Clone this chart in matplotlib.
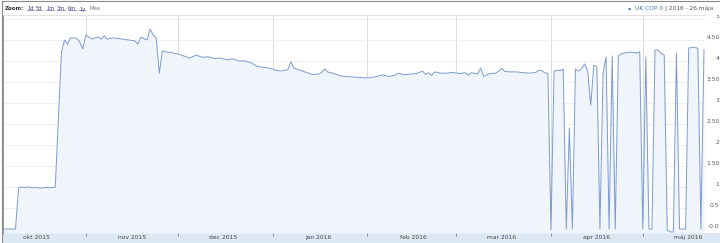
import matplotlib
matplotlib.use("Agg")
import matplotlib.pyplot as plt
import pandas as pd
from matplotlib.patches import Rectangle
from matplotlib.lines import Line2D
from matplotlib.ticker import FixedLocator, FixedFormatter, NullFormatter

# ------------------------------------------------------------------------------
# data (UK COP 0)

dates = [
    "2015-10-05", "2015-10-07", "2015-10-09", "2015-10-10", "2015-10-11", "2015-10-12",
    "2015-10-13", "2015-10-14", "2015-10-15", "2015-10-16", "2015-10-17", "2015-10-18",
    "2015-10-19", "2015-10-20", "2015-10-21", "2015-10-22", "2015-10-23", "2015-10-24",
    "2015-10-25", "2015-10-26", "2015-10-27", "2015-10-28", "2015-10-29", "2015-10-30",
    "2015-10-31", "2015-11-01", "2015-11-02", "2015-11-03", "2015-11-04", "2015-11-05",
    "2015-11-06", "2015-11-07", "2015-11-08", "2015-11-09", "2015-11-10", "2015-11-11",
    "2015-11-12", "2015-11-13", "2015-11-14", "2015-11-15", "2015-11-16", "2015-11-17",
    "2015-11-18", "2015-11-19", "2015-11-20", "2015-11-21", "2015-11-22", "2015-11-23",
    "2015-11-24", "2015-11-25", "2015-11-26", "2015-11-27", "2015-11-28", "2015-11-29",
    "2015-11-30", "2015-12-01", "2015-12-03", "2015-12-05", "2015-12-07", "2015-12-09",
    "2015-12-11", "2015-12-13", "2015-12-15", "2015-12-17", "2015-12-19", "2015-12-21",
    "2015-12-23", "2015-12-25", "2015-12-27", "2015-12-29", "2015-12-31", "2016-01-02",
    "2016-01-04", "2016-01-05", "2016-01-06", "2016-01-07", "2016-01-08", "2016-01-10",
    "2016-01-12", "2016-01-14", "2016-01-16", "2016-01-17", "2016-01-18", "2016-01-19",
    "2016-01-21", "2016-01-23", "2016-01-25", "2016-01-27", "2016-01-29", "2016-01-31",
    "2016-02-02", "2016-02-04", "2016-02-06", "2016-02-08", "2016-02-10", "2016-02-11",
    "2016-02-13", "2016-02-15", "2016-02-17", "2016-02-19", "2016-02-20", "2016-02-21",
    "2016-02-22", "2016-02-23", "2016-02-25", "2016-02-27", "2016-02-29", "2016-03-02",
    "2016-03-04", "2016-03-05", "2016-03-06", "2016-03-08", "2016-03-09", "2016-03-10",
    "2016-03-12", "2016-03-14", "2016-03-16", "2016-03-17", "2016-03-19", "2016-03-21",
    "2016-03-23", "2016-03-25", "2016-03-27", "2016-03-28", "2016-03-29", "2016-03-30",
    "2016-03-31", "2016-04-01", "2016-04-02", "2016-04-03", "2016-04-04", "2016-04-05",
    "2016-04-06", "2016-04-07", "2016-04-08", "2016-04-09", "2016-04-10", "2016-04-11",
    "2016-04-12", "2016-04-13", "2016-04-14", "2016-04-15", "2016-04-16", "2016-04-17",
    "2016-04-18", "2016-04-19", "2016-04-20", "2016-04-21", "2016-04-22", "2016-04-23",
    "2016-04-24", "2016-04-25", "2016-04-27", "2016-04-29", "2016-04-30", "2016-05-01",
    "2016-05-02", "2016-05-03", "2016-05-04", "2016-05-05", "2016-05-06", "2016-05-07",
    "2016-05-08", "2016-05-09", "2016-05-10", "2016-05-11", "2016-05-12", "2016-05-13",
    "2016-05-14", "2016-05-15", "2016-05-16", "2016-05-17", "2016-05-18", "2016-05-19",
    "2016-05-20", "2016-05-21",
]

cop0 = [
    0.00, 0.00, 0.00, 0.98, 1.00, 0.99,
    1.00, 0.99, 0.98, 0.99, 0.97, 0.98,
    0.99, 0.98, 0.99, 1.00, 2.60, 4.19,
    4.50, 4.40, 4.55, 4.55, 4.54, 4.45,
    4.29, 4.62, 4.57, 4.52, 4.55, 4.57,
    4.52, 4.60, 4.52, 4.54, 4.55, 4.54,
    4.53, 4.52, 4.51, 4.50, 4.49, 4.48,
    4.40, 4.57, 4.53, 4.50, 4.76, 4.62,
    4.55, 3.71, 4.24, 4.22, 4.21, 4.20,
    4.18, 4.17, 4.12, 4.07, 4.14, 4.09,
    4.10, 4.06, 4.07, 4.03, 4.05, 4.00,
    4.00, 3.96, 3.87, 3.85, 3.83, 3.78,
    3.76, 3.78, 3.79, 3.98, 3.83, 3.78,
    3.73, 3.68, 3.69, 3.72, 3.81, 3.74,
    3.70, 3.65, 3.63, 3.62, 3.61, 3.60,
    3.60, 3.63, 3.67, 3.63, 3.66, 3.71,
    3.67, 3.69, 3.70, 3.76, 3.68, 3.72,
    3.66, 3.74, 3.71, 3.71, 3.73, 3.70,
    3.72, 3.66, 3.72, 3.69, 3.83, 3.63,
    3.70, 3.71, 3.82, 3.75, 3.74, 3.74,
    3.72, 3.71, 3.73, 3.78, 3.77, 3.72,
    3.70, -0.02, 3.76, 3.78, 3.77, 3.81,
    0.00, 2.40, 0.00, 3.81, 3.76, 3.82,
    3.93, 3.75, 2.95, 3.90, 3.86, 0.00,
    3.70, 4.10, 0.00, 4.12, 0.00, 4.12,
    4.17, 4.19, 4.21, 4.19, 4.22, 0.00,
    4.10, 0.00, 0.00, 4.26, 4.26, 4.18,
    4.14, -0.03, -0.07, -0.07, 4.19, 0.00,
    0.00, 0.00, 4.31, 4.32, 4.33, 4.30,
    0.00, 4.27,
]

month_labels = ["okt 2015", "nov 2015", "dec 2015", "jan 2016",
                "feb 2016", "mar 2016", "apr 2016", "máj 2016"]
month_mids = ["2015-10-16", "2015-11-16", "2015-12-16", "2016-01-16",
              "2016-02-16", "2016-03-16", "2016-04-16", "2016-05-16"]
month_starts = ["2015-11-01", "2015-12-01", "2016-01-01", "2016-02-01",
                "2016-03-01", "2016-04-01", "2016-05-01"]

y_ticks = [0, 0.5, 1, 1.5, 2, 2.5, 3, 3.5, 4, 4.5, 5]
y_tick_labels = ["-0.0", "0.5", "1", "1.50", "2", "2.50", "3", "3.50", "4", "4.50", "5"]

zoom_buttons = ["1d", "5d", "1m", "3m", "6m", "1y"]

# ------------------------------------------------------------------------------

W, H = 720, 243
fig = plt.figure(figsize=(W / 100, H / 100), dpi=100)
fig.patch.set_facecolor("white")

ax = fig.add_axes([3 / W, 10 / H, 702 / W, 218 / H])
ax.set_facecolor("white")

x = matplotlib.dates.date2num(pd.to_datetime(dates))
y_bottom = -0.095

ax.fill_between(x, cop0, y_bottom, color="#f0f4fb", lw=0, zorder=1)
ax.plot(x, cop0, color="#7b9bd1", lw=0.7, zorder=3)

ax.set_xlim(matplotlib.dates.date2num(pd.Timestamp("2015-10-04 22:00")),
            matplotlib.dates.date2num(pd.Timestamp("2016-05-21 08:00")))
ax.set_ylim(y_bottom, 5.095)

# x axis: month starts = ticks + grid, mid-month = labels
ax.xaxis.set_major_locator(FixedLocator(matplotlib.dates.date2num(pd.to_datetime(month_starts))))
ax.xaxis.set_major_formatter(NullFormatter())
ax.xaxis.set_minor_locator(FixedLocator(matplotlib.dates.date2num(pd.to_datetime(month_mids))))
ax.xaxis.set_minor_formatter(FixedFormatter(month_labels))
ax.tick_params(axis="x", which="major", direction="out", length=2.4, width=0.6,
               color="#777777")
ax.tick_params(axis="x", which="minor", length=0, pad=1.4, labelsize=4.3,
               labelcolor="#444444")
ax.grid(axis="x", which="major", color="#d6d6d6", lw=0.6, zorder=0)

# y axis on the right, labels sitting just above the gridlines
ax.yaxis.set_ticks_position("right")
ax.set_yticks(y_ticks, y_tick_labels)
ax.tick_params(axis="y", length=0, pad=10.5, labelsize=4.3, labelcolor="#555555")
for lbl in ax.get_yticklabels():
    lbl.set_ha("right")
    lbl.set_va("bottom")
ax.grid(axis="y", color="#ececec", lw=0.6, zorder=0)
ax.set_axisbelow(True)

for s in ["right", "bottom"]:
    ax.spines[s].set_visible(False)
ax.spines["left"].set_color("#9a9a9a")
ax.spines["left"].set_linewidth(0.8)
ax.spines["top"].set_color("#dddddd")
ax.spines["top"].set_linewidth(0.6)

# bottom band under the x axis
fig.patches.append(Rectangle((3 / W, 0), 717 / W, 10 / H, transform=fig.transFigure,
                             facecolor="#dde8f5", edgecolor="none", zorder=-1))

# header bar
fig.patches.append(Rectangle((3 / W, 1 - 15 / H), 717 / W, 14 / H, transform=fig.transFigure,
                             facecolor="white", edgecolor="none", zorder=5))
fig.lines.append(Line2D([2 / W, 1], [1 - 1 / H, 1 - 1 / H], transform=fig.transFigure,
                        color="#8a8a8a", lw=0.8, zorder=6))
fig.lines.append(Line2D([2 / W, 2 / W], [0, 1 - 1 / H], transform=fig.transFigure,
                        color="#8a8a8a", lw=0.8, zorder=6))

ty = 1 - 9 / H
fig.text(5 / W, ty, "Zoom:", fontsize=4.0, fontweight="bold", color="#333333",
         va="center", zorder=7)
btn_x = [27, 36, 46, 57, 68, 79]
btn_texts = []
for bx, b in zip(btn_x, zoom_buttons):
    btn_texts.append(fig.text(bx / W, ty, b, fontsize=3.7, color="#3e3e8e",
                              va="center", zorder=7))
fig.text(90 / W, ty, "Max", fontsize=3.9, color="#777777", va="center", zorder=7)

fig.text(629 / W, ty, "\u25CF", fontsize=2.5, color="#4572a7", va="center",
         ha="center", zorder=7)
fig.text(635 / W, ty, "UK COP 0", fontsize=4.2, color="#4572a7", va="center",
         ha="left", zorder=7)
fig.text(665 / W, ty, "| 2016 - 26.mája", fontsize=4.2, color="#555555",
         va="center", ha="left", zorder=7)

# underline the zoom links
fig.canvas.draw()
renderer = fig.canvas.get_renderer()
inv = fig.transFigure.inverted()
for t in btn_texts:
    bb = t.get_window_extent(renderer)
    (x0, y0), (x1, _) = inv.transform([(bb.x0, bb.y0 + 1.2), (bb.x1, bb.y0 + 1.2)])
    fig.lines.append(Line2D([x0, x1], [y0, y0], transform=fig.transFigure,
                            color="#3e3e8e", lw=0.4, zorder=7))

fig.savefig("out.png", dpi=100, facecolor="white")
